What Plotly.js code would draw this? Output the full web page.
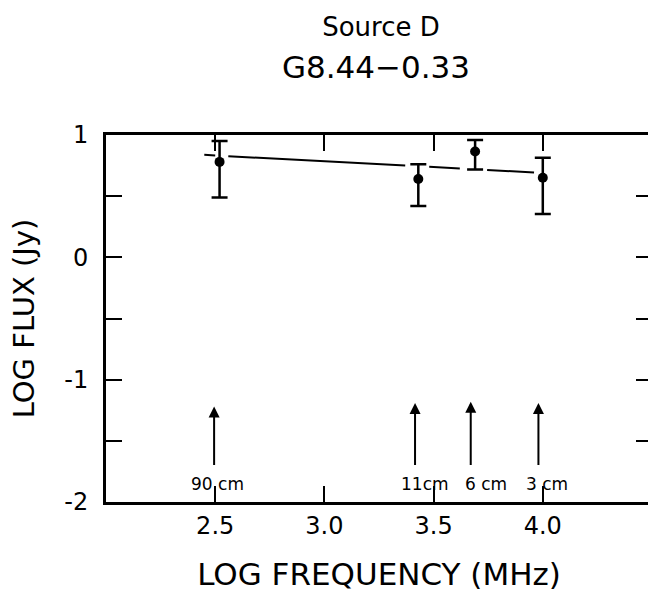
<!DOCTYPE html>
<html>
<head>
<meta charset="utf-8">
<script src="https://cdn.plot.ly/plotly-3.0.1.min.js"></script>
<style>html,body{margin:0;padding:0;overflow:hidden;background:#fff;}#chart{width:656px;height:592px;}</style>
</head>
<body>
<div id="chart"></div>
<script>
// Measured points: log frequency (MHz) vs log flux (Jy)
const freq = [2.52, 3.43, 3.69, 4.00];
const flux = [0.78, 0.64, 0.865, 0.65];
const errPlus = [0.17, 0.12, 0.095, 0.165];
const errMinus = [0.29, 0.22, 0.147, 0.295];

// Fitted line (drawn broken where it meets the points)
const fitX = [2.45, 2.50, null, 2.56, 3.37, null, 3.48, 3.62, null, 3.745, 3.96];
const fitY = [0.838, 0.833, null, 0.827, 0.750, null, 0.740, 0.726, null, 0.714, 0.694];

// Wavelength markers
const bandLabels = ['90 cm', '11cm', '6 cm', '3 cm'];
const bandX = [2.495, 3.415, 3.67, 3.98];
const bandTip = [-1.22, -1.19, -1.18, -1.19];
const bandTail = [-1.71, -1.71, -1.71, -1.71];
const bandLabelX = [2.51, 3.46, 3.74, 4.02];
const bandLabelY = -1.85;

const xTickVals = [2.5, 3.0, 3.5, 4.0];
const xTickText = ['2.5', '3.0', '3.5', '4.0'];
const yTickVals = [-2, -1.5, -1, -0.5, 0, 0.5, 1];
const yTickText = ['-2', '', '-1', '', '0', '', '1'];

const FONT = 'DejaVu Sans, Liberation Sans, sans-serif';

const traces = [
  {x: fitX, y: fitY, mode: 'lines', line: {color: '#000', width: 2}, connectgaps: false, hoverinfo: 'skip'},
  {x: freq, y: flux, mode: 'markers', type: 'scatter',
   marker: {color: '#000', size: 10},
   error_y: {type: 'data', symmetric: false, array: errPlus, arrayminus: errMinus, color: '#000', thickness: 2.5, width: 8}}
];

const annotations = [];
bandX.forEach((x, i) => {
  annotations.push({x: x, y: bandTip[i], ax: x, ay: bandTail[i], axref: 'x', ayref: 'y', xref: 'x', yref: 'y',
    text: '', showarrow: true, arrowhead: 2, arrowsize: 1.1, arrowwidth: 2, arrowcolor: '#000'});
  annotations.push({x: bandLabelX[i], y: bandLabelY, xref: 'x', yref: 'y', text: bandLabels[i], showarrow: false,
    font: {family: FONT, size: 17, color: '#000'}});
});
annotations.push({xref: 'paper', yref: 'paper', x: (376 - 106) / 546, y: (502 - 67) / 367, yanchor: 'middle', xanchor: 'center',
  text: 'G8.44\u22120.33', showarrow: false, font: {family: FONT, size: 31, color: '#000'}});

const layout = {
  width: 656, height: 592,
  margin: {l: 106, r: 4, t: 135, b: 90},
  paper_bgcolor: '#fff', plot_bgcolor: '#fff',
  showlegend: false,
  title: {text: 'Source D', x: (381) / 656, xanchor: 'center', y: 1 - 27 / 592, yanchor: 'middle',
    font: {family: FONT, size: 26, color: '#000'}},
  xaxis: {range: [2.0, 4.5], tickvals: xTickVals, ticktext: xTickText, ticks: 'inside', ticklen: 16, tickwidth: 2,
    tickcolor: '#000', showline: true, linewidth: 3, linecolor: '#000', mirror: 'ticks', showgrid: false, zeroline: false,
    tickfont: {family: FONT, size: 24, color: '#000'}, ticklabelstandoff: 0,
    title: {text: 'LOG FREQUENCY (MHz)', font: {family: FONT, size: 31, color: '#000'}, standoff: 28}},
  yaxis: {range: [-2, 1], tickvals: yTickVals, ticktext: yTickText, ticks: 'inside', ticklen: 16, tickwidth: 2,
    tickcolor: '#000', showline: true, linewidth: 3, linecolor: '#000', mirror: 'ticks', showgrid: false, zeroline: false,
    tickfont: {family: FONT, size: 24, color: '#000'}, ticklabelstandoff: 10,
    title: {text: 'LOG FLUX (Jy)', font: {family: FONT, size: 29, color: '#000'}, standoff: 22}},
  annotations: annotations
};

Plotly.newPlot('chart', traces, layout, {staticPlot: true, displayModeBar: false});
</script>
</body>
</html>
